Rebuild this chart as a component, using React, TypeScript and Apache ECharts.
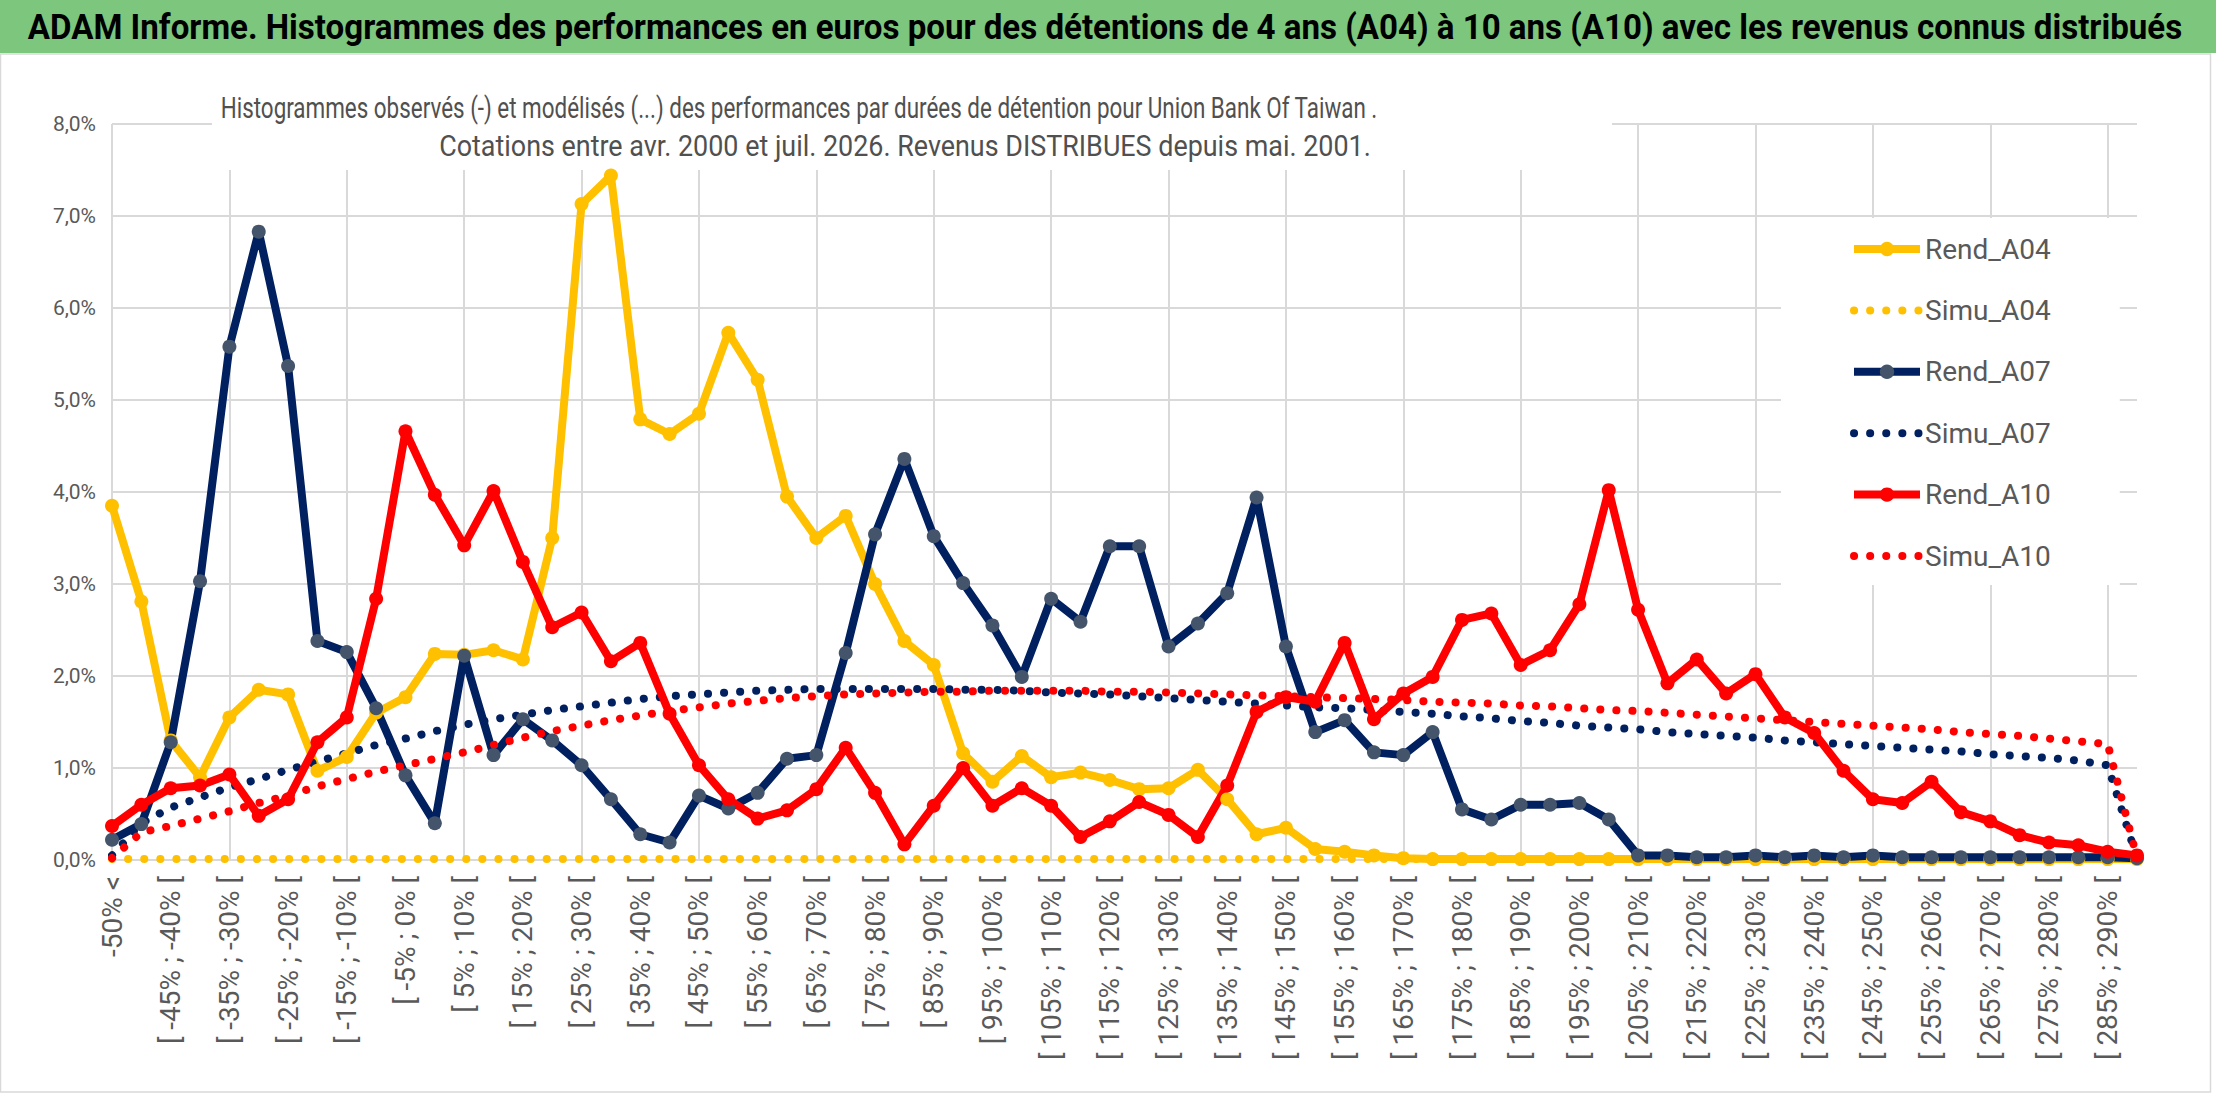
import React, { useEffect, useRef } from 'react';
import * as echarts from 'echarts';

// classes de performance (pas de 5 %)
const categories = [
  '-50% <', '[ -50% ; -45% [', '[ -45% ; -40% [', '[ -40% ; -35% [', '[ -35% ; -30% [',
  '[ -30% ; -25% [', '[ -25% ; -20% [', '[ -20% ; -15% [', '[ -15% ; -10% [', '[ -10% ; -5% [',
  '[ -5% ; 0% [', '[ 0% ; 5% [', '[ 5% ; 10% [', '[ 10% ; 15% [', '[ 15% ; 20% [',
  '[ 20% ; 25% [', '[ 25% ; 30% [', '[ 30% ; 35% [', '[ 35% ; 40% [', '[ 40% ; 45% [',
  '[ 45% ; 50% [', '[ 50% ; 55% [', '[ 55% ; 60% [', '[ 60% ; 65% [', '[ 65% ; 70% [',
  '[ 70% ; 75% [', '[ 75% ; 80% [', '[ 80% ; 85% [', '[ 85% ; 90% [', '[ 90% ; 95% [',
  '[ 95% ; 100% [', '[ 100% ; 105% [', '[ 105% ; 110% [', '[ 110% ; 115% [', '[ 115% ; 120% [',
  '[ 120% ; 125% [', '[ 125% ; 130% [', '[ 130% ; 135% [', '[ 135% ; 140% [', '[ 140% ; 145% [',
  '[ 145% ; 150% [', '[ 150% ; 155% [', '[ 155% ; 160% [', '[ 160% ; 165% [', '[ 165% ; 170% [',
  '[ 170% ; 175% [', '[ 175% ; 180% [', '[ 180% ; 185% [', '[ 185% ; 190% [', '[ 190% ; 195% [',
  '[ 195% ; 200% [', '[ 200% ; 205% [', '[ 205% ; 210% [', '[ 210% ; 215% [', '[ 215% ; 220% [',
  '[ 220% ; 225% [', '[ 225% ; 230% [', '[ 230% ; 235% [', '[ 235% ; 240% [', '[ 240% ; 245% [',
  '[ 245% ; 250% [', '[ 250% ; 255% [', '[ 255% ; 260% [', '[ 260% ; 265% [', '[ 265% ; 270% [',
  '[ 270% ; 275% [', '[ 275% ; 280% [', '[ 280% ; 285% [', '[ 285% ; 290% [', '> 290%'
];

// valeurs en %
const rendA04 = [
  3.85, 2.81, 1.30, 0.90, 1.55, 1.85, 1.80, 0.97, 1.12, 1.60,
  1.77, 2.24, 2.23, 2.28, 2.18, 3.50, 7.13, 7.44, 4.79, 4.63,
  4.85, 5.73, 5.22, 3.95, 3.50, 3.74, 3.00, 2.38, 2.12, 1.16,
  0.85, 1.13, 0.90, 0.95, 0.87, 0.77, 0.78, 0.98, 0.66, 0.28,
  0.35, 0.12, 0.09, 0.05, 0.02, 0.01, 0.01, 0.01, 0.01, 0.01,
  0.01, 0.01, 0.01, 0.01, 0.01, 0.01, 0.01, 0.01, 0.01, 0.01,
  0.01, 0.01, 0.01, 0.01, 0.01, 0.01, 0.01, 0.01, 0.01, 0.01
];

const simuA04 = [
  0.01, 0.01, 0.01, 0.01, 0.01, 0.01, 0.01, 0.01, 0.01, 0.01,
  0.01, 0.01, 0.01, 0.01, 0.01, 0.01, 0.01, 0.01, 0.01, 0.01,
  0.01, 0.01, 0.01, 0.01, 0.01, 0.01, 0.01, 0.01, 0.01, 0.01,
  0.01, 0.01, 0.01, 0.01, 0.01, 0.01, 0.01, 0.01, 0.01, 0.01,
  0.01, 0.01, 0.01, 0.01, 0.01, 0.01, 0.01, 0.01, 0.01, 0.01,
  0.01, 0.01, 0.01, 0.01, 0.01, 0.01, 0.01, 0.01, 0.01, 0.01,
  0.01, 0.01, 0.01, 0.01, 0.01, 0.01, 0.01, 0.01, 0.01, 0.01
];

const rendA07 = [
  0.22, 0.39, 1.28, 3.03, 5.58, 6.83, 5.37, 2.38, 2.26, 1.65,
  0.92, 0.40, 2.22, 1.14, 1.53, 1.30, 1.03, 0.66, 0.28, 0.19,
  0.70, 0.56, 0.73, 1.10, 1.14, 2.25, 3.54, 4.36, 3.52, 3.01,
  2.55, 1.99, 2.84, 2.59, 3.41, 3.41, 2.32, 2.57, 2.90, 3.94,
  2.32, 1.39, 1.52, 1.17, 1.14, 1.39, 0.55, 0.44, 0.60, 0.60,
  0.62, 0.44, 0.05, 0.05, 0.03, 0.03, 0.05, 0.03, 0.05, 0.03,
  0.05, 0.03, 0.03, 0.03, 0.03, 0.03, 0.03, 0.03, 0.03, 0.02
];

const simuA07 = [
  0.05, 0.40, 0.57, 0.68, 0.79, 0.88, 0.98, 1.07, 1.16, 1.25,
  1.32, 1.40, 1.47, 1.53, 1.58, 1.63, 1.67, 1.71, 1.75, 1.78,
  1.80, 1.82, 1.84, 1.85, 1.86, 1.86, 1.86, 1.86, 1.86, 1.85,
  1.85, 1.84, 1.82, 1.81, 1.80, 1.78, 1.76, 1.74, 1.72, 1.70,
  1.68, 1.66, 1.65, 1.63, 1.61, 1.59, 1.56, 1.54, 1.51, 1.49,
  1.46, 1.44, 1.42, 1.39, 1.37, 1.35, 1.33, 1.30, 1.28, 1.26,
  1.24, 1.22, 1.20, 1.18, 1.15, 1.13, 1.11, 1.08, 1.03, 0.02
];

const rendA10 = [
  0.37, 0.60, 0.78, 0.81, 0.93, 0.48, 0.66, 1.28, 1.55, 2.84,
  4.66, 3.97, 3.42, 4.01, 3.24, 2.53, 2.69, 2.16, 2.36, 1.59,
  1.03, 0.66, 0.45, 0.54, 0.77, 1.22, 0.73, 0.17, 0.59, 1.00,
  0.59, 0.78, 0.59, 0.25, 0.42, 0.63, 0.49, 0.25, 0.81, 1.61,
  1.77, 1.72, 2.36, 1.53, 1.81, 1.99, 2.61, 2.68, 2.12, 2.28,
  2.78, 4.02, 2.72, 1.92, 2.18, 1.81, 2.02, 1.55, 1.38, 0.97,
  0.66, 0.62, 0.85, 0.52, 0.42, 0.27, 0.19, 0.16, 0.09, 0.05
];

const simuA10 = [
  0.02, 0.30, 0.37, 0.45, 0.53, 0.62, 0.70, 0.80, 0.88, 0.96,
  1.03, 1.10, 1.17, 1.25, 1.33, 1.40, 1.46, 1.52, 1.57, 1.62,
  1.66, 1.70, 1.73, 1.76, 1.78, 1.80, 1.81, 1.82, 1.83, 1.83,
  1.84, 1.84, 1.84, 1.84, 1.83, 1.83, 1.82, 1.81, 1.80, 1.79,
  1.78, 1.77, 1.76, 1.75, 1.74, 1.72, 1.71, 1.70, 1.68, 1.67,
  1.65, 1.63, 1.62, 1.60, 1.58, 1.56, 1.54, 1.52, 1.50, 1.48,
  1.46, 1.44, 1.42, 1.39, 1.37, 1.35, 1.32, 1.29, 1.26, 0.02
];

const yTicks = [0, 1, 2, 3, 4, 5, 6, 7, 8];

const bandTitle =
  'ADAM Informe. Histogrammes des performances en euros pour des détentions de 4 ans (A04) à 10 ans (A10) avec les revenus connus distribués';
const subTitle1 =
  'Histogrammes observés (-) et modélisés (...) des performances par durées de détention pour Union Bank Of Taiwan .';
const subTitle2 =
  'Cotations entre avr. 2000 et juil. 2026. Revenus DISTRIBUES depuis mai. 2001.';

const FONT = 'Roboto, sans-serif';
const GREY = '#595959';
const GRID = '#D9D9D9';

const YELLOW = '#FFC000';
const NAVY = '#002060';
const RED = '#FF0000';

// le texte d'origine (Calibri) est étroit : on compresse horizontalement
const measure = (text: string, font: string) => {
  const ctx = document.createElement('canvas').getContext('2d');
  if (!ctx) return 1;
  ctx.font = font;
  return ctx.measureText(text).width;
};

const squeezedText = (
  text: string,
  cx: number,
  cy: number,
  size: number,
  weight: string,
  color: string,
  targetWidth: number
) => ({
  type: 'text',
  x: cx,
  y: cy,
  scaleX: targetWidth / measure(text, `${weight} ${size}px ${FONT}`),
  z: 10,
  style: {
    text,
    fontFamily: FONT,
    fontSize: size,
    fontWeight: weight,
    fill: color,
    align: 'center',
    verticalAlign: 'middle'
  }
});

const rendSerie = (name: string, data: number[], line: string, dot: string) => ({
  name,
  type: 'line',
  data,
  symbol: 'circle',
  symbolSize: 14,
  showAllSymbol: true,
  lineStyle: { color: line, width: 8 },
  itemStyle: { color: dot },
  emphasis: { disabled: true }
});

const simuSerie = (name: string, data: number[], color: string) => ({
  name,
  type: 'line',
  data,
  symbol: 'none',
  lineStyle: { color, width: 8, type: [0.1, 16], cap: 'round' },
  itemStyle: { color },
  emphasis: { disabled: true }
});

const App: React.FC = () => {
  const chartRef = useRef<HTMLDivElement>(null);

  useEffect(() => {
    if (!chartRef.current) return;
    const chart = echarts.init(chartRef.current, undefined, { renderer: 'svg' });

    const option: any = {
      animation: false,
      backgroundColor: '#fff',
      graphic: [
        {
          type: 'rect',
          shape: { x: 0, y: 0, width: 2216, height: 53 },
          style: { fill: '#7DC67D' },
          z: 1
        },
        {
          type: 'rect',
          shape: { x: 0.5, y: 54, width: 2210, height: 1038 },
          style: { fill: 'none', stroke: GRID, lineWidth: 1.5 },
          z: 1
        },
        {
          // fond blanc sous le titre du graphique
          type: 'rect',
          shape: { x: 212, y: 88, width: 1400, height: 82 },
          style: { fill: '#fff' },
          z: 1
        },
        squeezedText(bandTitle, 1105, 27, 35, 'bold', '#000', 2155),
        squeezedText(subTitle1, 799, 107, 30, 'normal', '#505050', 1158),
        squeezedText(subTitle2, 905, 146, 30, 'normal', '#505050', 932)
      ],
      legend: {
        orient: 'vertical',
        left: 1781,
        top: 218,
        backgroundColor: '#fff',
        padding: [15, 69, 13, 69],
        itemWidth: 66,
        itemHeight: 18,
        itemGap: 29.4,
        z: 5,
        lineStyle: { width: 8 },
        textStyle: {
          fontFamily: FONT,
          fontSize: 28,
          fontWeight: 'normal',
          color: GREY,
          lineHeight: 32
        },
        data: [
          'Rend_A04',
          { name: 'Simu_A04', itemStyle: { opacity: 0 } },
          'Rend_A07',
          { name: 'Simu_A07', itemStyle: { opacity: 0 } },
          'Rend_A10',
          { name: 'Simu_A10', itemStyle: { opacity: 0 } }
        ]
      },
      grid: { left: 112, right: 79, top: 124, bottom: 242, containLabel: false },
      xAxis: {
        type: 'category',
        boundaryGap: false,
        data: categories,
        axisLine: { lineStyle: { color: GRID, width: 2 } },
        axisTick: { show: false },
        axisLabel: {
          interval: 1,
          rotate: 90,
          margin: 16,
          fontFamily: FONT,
          fontSize: 28,
          color: GREY
        },
        splitLine: { show: true, interval: 3, lineStyle: { color: GRID, width: 2 } }
      },
      yAxis: {
        type: 'value',
        min: yTicks[0],
        max: yTicks[yTicks.length - 1],
        interval: 1,
        axisLine: { show: false },
        axisTick: { show: false },
        axisLabel: {
          margin: 16,
          fontFamily: FONT,
          fontSize: 21,
          color: GREY,
          formatter: (v: number) => v.toFixed(1).replace('.', ',') + '%'
        },
        splitLine: { lineStyle: { color: GRID, width: 2 } }
      },
      series: [
        rendSerie('Rend_A04', rendA04, YELLOW, YELLOW),
        simuSerie('Simu_A04', simuA04, YELLOW),
        rendSerie('Rend_A07', rendA07, NAVY, '#44546A'),
        simuSerie('Simu_A07', simuA07, NAVY),
        rendSerie('Rend_A10', rendA10, RED, RED),
        simuSerie('Simu_A10', simuA10, RED)
      ]
    };

    chart.setOption(option);

    return () => {
      chart.dispose();
    };
  }, []);

  return (
    <div
      ref={chartRef}
      style={{ position: 'absolute', left: 0, top: 0, width: '2216px', height: '1102px' }}
    />
  );
};

export default App;
